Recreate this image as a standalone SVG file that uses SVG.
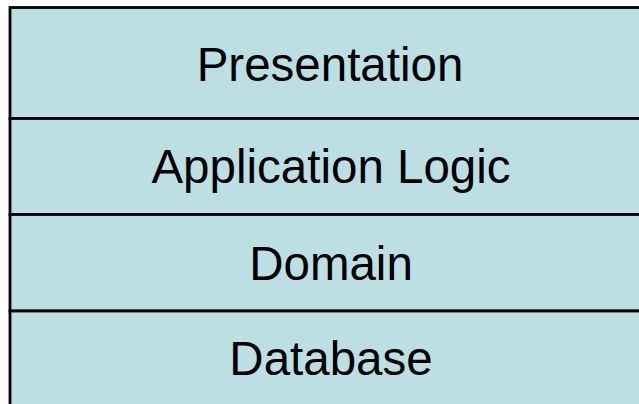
<svg xmlns="http://www.w3.org/2000/svg" width="639" height="404" viewBox="0 0 639 404">
  <style>
    .layer { fill: #bbdfe3; stroke: #000; stroke-width: 2.8; }
    .label { font-family: "Liberation Sans", Arial, sans-serif; font-size: 47.5px; fill: #000; text-anchor: middle; }
  </style>
  <rect width="639" height="404" fill="#fff"/>
  <g id="presentation">
    <rect class="layer" x="10" y="7.5" width="640" height="111"/>
    <text class="label" x="330" y="81">Presentation</text>
  </g>
  <g id="application-logic">
    <rect class="layer" x="10" y="118.5" width="640" height="96"/>
    <text class="label" x="331" y="182.5">Application Logic</text>
  </g>
  <g id="domain">
    <rect class="layer" x="10" y="214.5" width="640" height="96.5"/>
    <text class="label" x="331" y="279.5">Domain</text>
  </g>
  <g id="database">
    <rect class="layer" x="10" y="311" width="640" height="110"/>
    <text class="label" x="331" y="374.5">Database</text>
  </g>
</svg>
